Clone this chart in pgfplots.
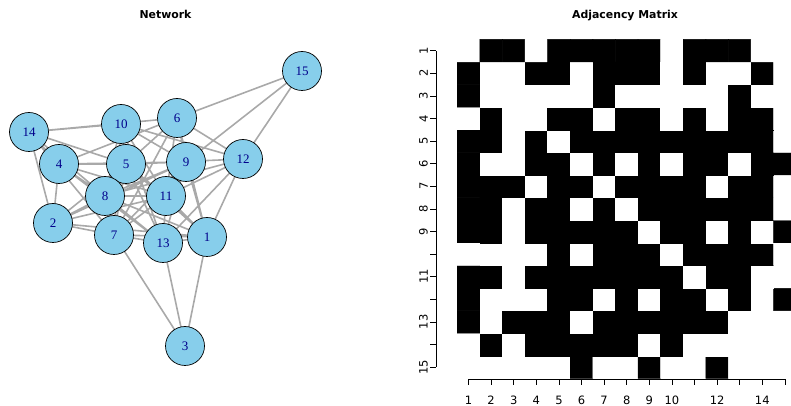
\documentclass[border=0pt]{standalone}
\usepackage{fontspec}
\setmainfont{DejaVu Sans}
\newfontfamily\nodefont{Liberation Serif}
\usepackage{pgfplots}
\pgfplotsset{compat=1.18}
\definecolor{skyblue}{HTML}{87CEEB}
\definecolor{labelblue}{HTML}{00008B}
\definecolor{edgegray}{HTML}{A9A9A9}
\begin{document}
\begin{tikzpicture}
\path[use as bounding box] (0,0) rectangle (791pt,406pt);
% ---------------- Network ----------------
\begin{axis}[at={(0pt,0pt)}, anchor=south west, scale only axis, width=791pt, height=406pt,
  xmin=0, xmax=791, ymin=0, ymax=406, hide axis, clip=false]
\addplot[edgegray, line width=1.6pt, unbounded coords=jump] coordinates {
(207,169) (53,183) (nan,nan)
(207,169) (185,60) (nan,nan)
(207,169) (126,242) (nan,nan)
(207,169) (177,288) (nan,nan)
(207,169) (114,171) (nan,nan)
(207,169) (105,210) (nan,nan)
(207,169) (186,244) (nan,nan)
(207,169) (166,210) (nan,nan)
(207,169) (243,247) (nan,nan)
(207,169) (163,163) (nan,nan)
(53,183) (59,242) (nan,nan)
(53,183) (126,242) (nan,nan)
(53,183) (114,171) (nan,nan)
(53,183) (105,210) (nan,nan)
(53,183) (186,244) (nan,nan)
(53,183) (166,210) (nan,nan)
(53,183) (29,274) (nan,nan)
(185,60) (114,171) (nan,nan)
(185,60) (163,163) (nan,nan)
(59,242) (126,242) (nan,nan)
(59,242) (177,288) (nan,nan)
(59,242) (105,210) (nan,nan)
(59,242) (186,244) (nan,nan)
(59,242) (166,210) (nan,nan)
(59,242) (163,163) (nan,nan)
(59,242) (29,274) (nan,nan)
(126,242) (177,288) (nan,nan)
(126,242) (114,171) (nan,nan)
(126,242) (105,210) (nan,nan)
(126,242) (186,244) (nan,nan)
(126,242) (121,282) (nan,nan)
(126,242) (166,210) (nan,nan)
(126,242) (243,247) (nan,nan)
(126,242) (163,163) (nan,nan)
(126,242) (29,274) (nan,nan)
(177,288) (114,171) (nan,nan)
(177,288) (186,244) (nan,nan)
(177,288) (166,210) (nan,nan)
(177,288) (243,247) (nan,nan)
(177,288) (29,274) (nan,nan)
(177,288) (302,335) (nan,nan)
(114,171) (105,210) (nan,nan)
(114,171) (186,244) (nan,nan)
(114,171) (121,282) (nan,nan)
(114,171) (166,210) (nan,nan)
(114,171) (163,163) (nan,nan)
(114,171) (29,274) (nan,nan)
(105,210) (186,244) (nan,nan)
(105,210) (121,282) (nan,nan)
(105,210) (166,210) (nan,nan)
(105,210) (243,247) (nan,nan)
(105,210) (163,163) (nan,nan)
(105,210) (29,274) (nan,nan)
(186,244) (121,282) (nan,nan)
(186,244) (166,210) (nan,nan)
(186,244) (163,163) (nan,nan)
(186,244) (302,335) (nan,nan)
(121,282) (166,210) (nan,nan)
(121,282) (243,247) (nan,nan)
(121,282) (163,163) (nan,nan)
(121,282) (29,274) (nan,nan)
(166,210) (243,247) (nan,nan)
(166,210) (163,163) (nan,nan)
(243,247) (163,163) (nan,nan)
(243,247) (302,335)
};
\addplot[only marks, mark=*, mark size=19.5pt,
  mark options={fill=skyblue, draw=black, line width=0.7pt},
  point meta=explicit symbolic, nodes near coords,
  every node near coord/.append style={anchor=center, font=\nodefont\fontsize{13}{13}\selectfont, text=labelblue}]
table[meta=label] {
x y label
207 169 1
53 183 2
185 60 3
59 242 4
126 242 5
177 288 6
114 171 7
105 210 8
186 244 9
121 282 10
166 210 11
243 247 12
163 163 13
29 274 14
302 335 15
};
\node[font=\bfseries\fontsize{10.9}{12}\selectfont, anchor=base] at (axis cs:165.5,387.8) {Network};
\node[font=\bfseries\fontsize{10.9}{12}\selectfont, anchor=base] at (axis cs:625,387.8) {Adjacency Matrix};
\end{axis}
% ---------------- Adjacency matrix cells ----------------
\begin{axis}[at={(457.2pt,27.6pt)}, anchor=south west, scale only axis, width=339pt, height=339pt,
  xmin=0.5, xmax=15.5, ymin=0.5, ymax=15.5, hide axis, clip=false,
  colormap={bw}{color(0)=(white) color(1)=(black)}, point meta min=0, point meta max=1]
\addplot[matrix plot*, mesh/cols=15, point meta=explicit] table[meta=c, row sep=\\] {
x y c \\
1 1 0 \\ 2 1 0 \\ 3 1 0 \\ 4 1 0 \\ 5 1 0 \\ 6 1 1 \\ 7 1 0 \\ 8 1 0 \\ 9 1 1 \\ 10 1 0 \\ 11 1 0 \\ 12 1 1 \\ 13 1 0 \\ 14 1 0 \\ 15 1 0 \\
1 2 0 \\ 2 2 1 \\ 3 2 0 \\ 4 2 1 \\ 5 2 1 \\ 6 2 1 \\ 7 2 1 \\ 8 2 1 \\ 9 2 0 \\ 10 2 1 \\ 11 2 0 \\ 12 2 0 \\ 13 2 0 \\ 14 2 0 \\ 15 2 0 \\
1 3 1 \\ 2 3 0 \\ 3 3 1 \\ 4 3 1 \\ 5 3 1 \\ 6 3 0 \\ 7 3 1 \\ 8 3 1 \\ 9 3 1 \\ 10 3 1 \\ 11 3 1 \\ 12 3 1 \\ 13 3 0 \\ 14 3 0 \\ 15 3 0 \\
1 4 1 \\ 2 4 0 \\ 3 4 0 \\ 4 4 0 \\ 5 4 1 \\ 6 4 1 \\ 7 4 0 \\ 8 4 1 \\ 9 4 0 \\ 10 4 1 \\ 11 4 1 \\ 12 4 0 \\ 13 4 1 \\ 14 4 0 \\ 15 4 1 \\
1 5 1 \\ 2 5 1 \\ 3 5 0 \\ 4 5 1 \\ 5 5 1 \\ 6 5 1 \\ 7 5 1 \\ 8 5 1 \\ 9 5 1 \\ 10 5 1 \\ 11 5 0 \\ 12 5 1 \\ 13 5 1 \\ 14 5 0 \\ 15 5 0 \\
1 6 0 \\ 2 6 0 \\ 3 6 0 \\ 4 6 0 \\ 5 6 1 \\ 6 6 0 \\ 7 6 1 \\ 8 6 1 \\ 9 6 1 \\ 10 6 0 \\ 11 6 1 \\ 12 6 1 \\ 13 6 1 \\ 14 6 1 \\ 15 6 0 \\
1 7 1 \\ 2 7 1 \\ 3 7 0 \\ 4 7 1 \\ 5 7 1 \\ 6 7 1 \\ 7 7 1 \\ 8 7 1 \\ 9 7 0 \\ 10 7 1 \\ 11 7 1 \\ 12 7 0 \\ 13 7 1 \\ 14 7 0 \\ 15 7 1 \\
1 8 1 \\ 2 8 1 \\ 3 8 0 \\ 4 8 1 \\ 5 8 1 \\ 6 8 0 \\ 7 8 1 \\ 8 8 0 \\ 9 8 1 \\ 10 8 1 \\ 11 8 1 \\ 12 8 1 \\ 13 8 1 \\ 14 8 1 \\ 15 8 0 \\
1 9 1 \\ 2 9 1 \\ 3 9 1 \\ 4 9 0 \\ 5 9 1 \\ 6 9 1 \\ 7 9 0 \\ 8 9 1 \\ 9 9 1 \\ 10 9 1 \\ 11 9 1 \\ 12 9 0 \\ 13 9 1 \\ 14 9 1 \\ 15 9 0 \\
1 10 1 \\ 2 10 0 \\ 3 10 0 \\ 4 10 1 \\ 5 10 1 \\ 6 10 0 \\ 7 10 1 \\ 8 10 0 \\ 9 10 1 \\ 10 10 0 \\ 11 10 1 \\ 12 10 1 \\ 13 10 0 \\ 14 10 1 \\ 15 10 1 \\
1 11 1 \\ 2 11 1 \\ 3 11 0 \\ 4 11 1 \\ 5 11 0 \\ 6 11 1 \\ 7 11 1 \\ 8 11 1 \\ 9 11 1 \\ 10 11 1 \\ 11 11 1 \\ 12 11 1 \\ 13 11 1 \\ 14 11 1 \\ 15 11 0 \\
1 12 0 \\ 2 12 1 \\ 3 12 0 \\ 4 12 0 \\ 5 12 1 \\ 6 12 1 \\ 7 12 0 \\ 8 12 1 \\ 9 12 1 \\ 10 12 0 \\ 11 12 1 \\ 12 12 0 \\ 13 12 1 \\ 14 12 1 \\ 15 12 0 \\
1 13 1 \\ 2 13 0 \\ 3 13 0 \\ 4 13 0 \\ 5 13 0 \\ 6 13 0 \\ 7 13 1 \\ 8 13 0 \\ 9 13 0 \\ 10 13 0 \\ 11 13 0 \\ 12 13 0 \\ 13 13 1 \\ 14 13 0 \\ 15 13 0 \\
1 14 1 \\ 2 14 0 \\ 3 14 0 \\ 4 14 1 \\ 5 14 1 \\ 6 14 0 \\ 7 14 1 \\ 8 14 1 \\ 9 14 1 \\ 10 14 0 \\ 11 14 1 \\ 12 14 0 \\ 13 14 0 \\ 14 14 1 \\ 15 14 0 \\
1 15 0 \\ 2 15 1 \\ 3 15 1 \\ 4 15 0 \\ 5 15 1 \\ 6 15 1 \\ 7 15 1 \\ 8 15 1 \\ 9 15 1 \\ 10 15 0 \\ 11 15 1 \\ 12 15 1 \\ 13 15 1 \\ 14 15 0 \\ 15 15 0 \\
};
\end{axis}
% ---------------- x axis of matrix ----------------
\begin{axis}[at={(468.5pt,27pt)}, anchor=south west, scale only axis, width=316.4pt, height=20pt,
  xmin=1, xmax=15, ymin=0, ymax=1, axis x line=bottom, axis y line=none,
  axis line style={-, black, line width=0.6pt}, xtick={1,...,15},
  xticklabels={1,2,3,4,5,6,7,8,9,10,,12,,14,}, tick align=outside, major tick length=6pt,
  tick style={black, line width=0.6pt},
  xticklabel style={font=\fontsize{11.5}{11.5}\selectfont, inner sep=1pt, yshift=-10pt}]
\addplot[draw=none] coordinates {(1,0.5)};
\end{axis}
% ---------------- y axis of matrix ----------------
\begin{axis}[at={(436pt,39pt)}, anchor=south west, scale only axis, width=20pt, height=316.3pt,
  ymin=1, ymax=15, xmin=0, xmax=1, axis y line=left, axis x line=none,
  axis line style={-, black, line width=0.6pt}, ytick={1,...,15},
  yticklabels={15,,13,,11,,9,8,7,6,5,4,3,2,1}, tick align=outside, major tick length=6pt,
  tick style={black, line width=0.6pt},
  yticklabel style={rotate=90, anchor=south, font=\fontsize{11.5}{11.5}\selectfont, inner sep=2pt}]
\addplot[draw=none] coordinates {(0.5,1)};
\end{axis}
\end{tikzpicture}
\end{document}
